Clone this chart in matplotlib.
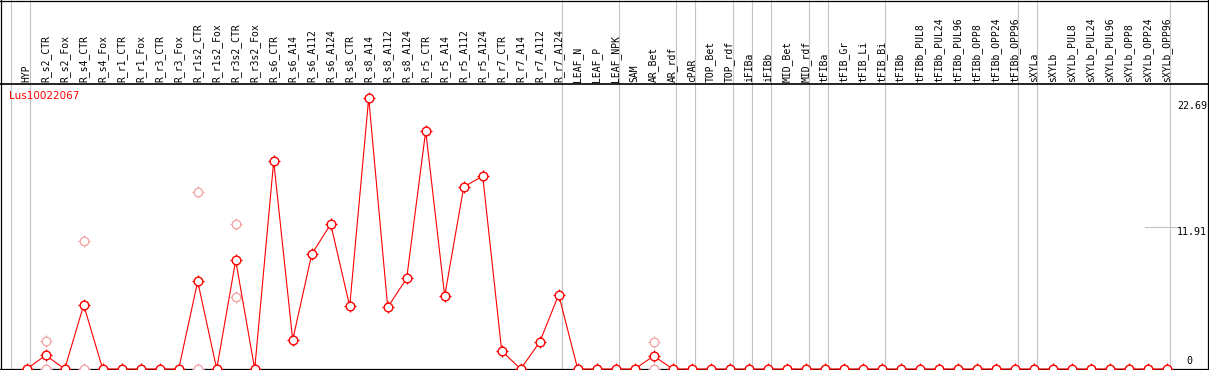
import matplotlib
matplotlib.use("Agg")
import matplotlib.pyplot as plt

samples = ["HYP",
           "R_s2_CTR", "R_s2_Fox", "R_s4_CTR", "R_s4_Fox", "R_r1_CTR", "R_r1_Fox",
           "R_r3_CTR", "R_r3_Fox", "R_r1s2_CTR", "R_r1s2_Fox", "R_r3s2_CTR", "R_r3s2_Fox",
           "R_s6_CTR", "R_s6_A14", "R_s6_A112", "R_s6_A124",
           "R_s8_CTR", "R_s8_A14", "R_s8_A112", "R_s8_A124",
           "R_r5_CTR", "R_r5_A14", "R_r5_A112", "R_r5_A124",
           "R_r7_CTR", "R_r7_A14", "R_r7_A112", "R_r7_A124",
           "LEAF_N", "LEAF_P", "LEAF_NPK",
           "SAM", "AR_Bet", "AR_rdf",
           "cPAR",
           "TOP_Bet", "TOP_rdf",
           "iFIBa", "iFIBb",
           "MID_Bet", "MID_rdf",
           "tFIBa",
           "tFIB_Gr", "tFIB_Li", "tFIB_Bi",
           "tFIBb", "tFIBb_PUL8", "tFIBb_PUL24", "tFIBb_PUL96",
           "tFIBb_OPP8", "tFIBb_OPP24", "tFIBb_OPP96",
           "sXYLa",
           "sXYLb", "sXYLb_PUL8", "sXYLb_PUL24", "sXYLb_PUL96",
           "sXYLb_OPP8", "sXYLb_OPP24", "sXYLb_OPP96"]

# sizes of the sample groups (separated by grey lines)
group_sizes = [1, 28, 3, 3, 1, 2, 1, 1, 2, 1, 3, 7, 1, 7]

# mean expression per sample
mean_expr = [0, 1.15, 0, 5.36, 0, 0, 0, 0, 0, 7.34, 0, 9.10, 0,
             17.41, 2.43, 9.60, 12.14,
             5.25, 22.69, 5.17, 7.59,
             19.93, 6.11, 15.24, 16.16,
             1.51, 0, 2.26, 6.22,
             0, 0, 0,
             0, 1.09, 0,
             0, 0, 0, 0, 0, 0, 0, 0,
             0, 0, 0,
             0, 0, 0, 0, 0, 0, 0,
             0,
             0, 0, 0, 0, 0, 0, 0]

# visible replicate values (sample index, value)
rep_idx = [1, 1, 3, 3, 9, 9, 11, 11, 33, 33]
rep_val = [2.34, 0, 10.72, 0, 14.82, 0, 12.14, 6.03, 2.26, 0]

gene = "Lus10022067"
ticks = [22.69, 11.91, 0]

W, H = 1209, 370
HEAD = 85
fig = plt.figure(figsize=(W / 100, H / 100), dpi=100)

x0 = -26.7 / 19
x1 = x0 + W / 19
px = 271 / 22.69  # pixels per unit

ax = fig.add_axes([0, 0, 1, (H - HEAD) / H])
ax.set_xlim(x0, x1)
ax.set_ylim(-1 / px, (369 - HEAD) / px)
ax.axis("off")

hd = fig.add_axes([0, (H - HEAD) / H, 1, HEAD / H])
hd.set_xlim(x0, x1)
hd.set_ylim(0, HEAD)
hd.axis("off")

mono = "DejaVu Sans Mono"
x = list(range(len(samples)))

for i, s in enumerate(samples):
    hd.text(i, 2.5, s, rotation=90, ha="center", va="bottom",
            fontsize=7, family=mono)

# group separators
ends = [-1]
for g in group_sizes:
    ends.append(ends[-1] + g)
for e in ends:
    ax.axvline(e + 0.18, color="#c4c4c4", lw=0.8, zorder=1)
    hd.axvline(e + 0.18, color="#c4c4c4", lw=0.8, zorder=1)

# borders
hd.axhline(1.0, color="black", lw=1.2)
hd.axhline(HEAD - 0.5, color="black", lw=0.9)
for a in (ax, hd):
    a.axvline(x0 + 1.5 / 19, color="black", lw=0.9)
    a.axvline(x0 + 1208 / 19, color="black", lw=0.9)
ax.axhline(0, color="black", lw=0.9, zorder=2)

pink = "#f0a0a0"
ax.plot(rep_idx, rep_val, ls="none", marker="+", ms=8.5, mew=0.8, color=pink, zorder=3)
ax.plot(rep_idx, rep_val, ls="none", marker="o", ms=6.2, mew=0.9, mfc="white", mec=pink, zorder=3)

ax.plot(x, mean_expr, color="red", lw=0.8, zorder=4)
ax.plot(x, mean_expr, ls="none", marker="+", ms=8.5, mew=0.9, color="red", zorder=5)
ax.plot(x, mean_expr, ls="none", marker="o", ms=6.2, mew=1.0, mfc="white", mec="red", zorder=6)

# scale labels on the right
xr = x0 + 1207 / 19
ax.text(xr, ticks[0] - 3 / px, f"{ticks[0]:.2f}", ha="right", va="top", fontsize=7.2, family=mono)
ax.plot([x0 + 1145 / 19, x0 + 1180 / 19], [ticks[1], ticks[1]], color="#c4c4c4", lw=0.8, zorder=1)
ax.text(xr, ticks[1] - 0.5 / px, f"{ticks[1]:.2f}", ha="right", va="top", fontsize=7.2, family=mono)
ax.text(x0 + 1186 / 19, ticks[2] + 3.5 / px, "0", ha="left", va="bottom", fontsize=7.2, family=mono)

ax.text(x0 + 9 / 19, (369 - 91) / px, gene, color="red", ha="left", va="top",
        fontsize=7.5, family="DejaVu Sans")

fig.savefig("out.png", dpi=100)
